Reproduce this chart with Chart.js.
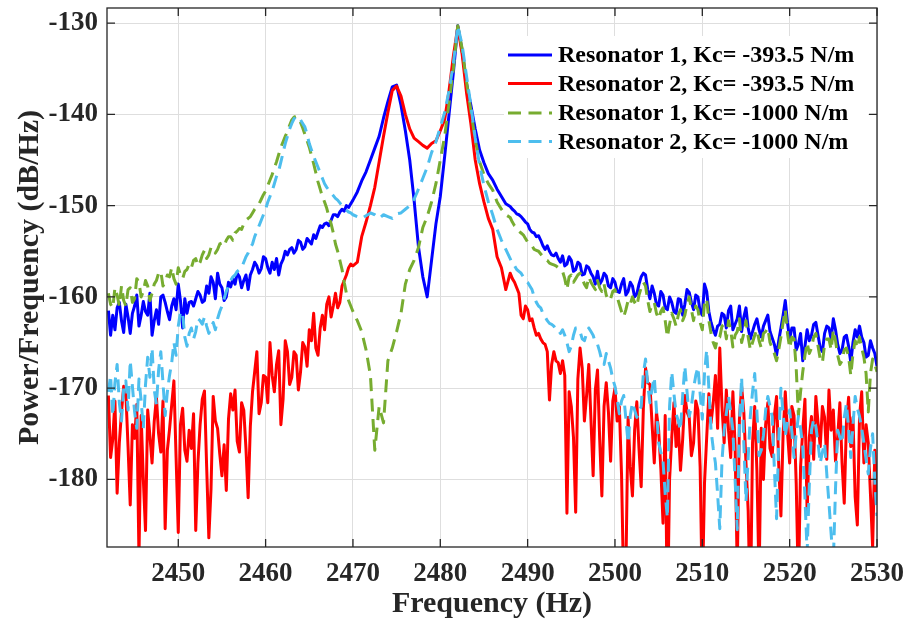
<!DOCTYPE html>
<html><head><meta charset="utf-8">
<script src="https://cdn.jsdelivr.net/npm/chart.js@4.4.1/dist/chart.umd.min.js"></script>
<style>html,body{margin:0;padding:0;background:#fff}#wrap{width:907px;height:629px}</style>
</head><body><div id="wrap"><canvas id="c" width="907" height="629"></canvas></div>
<script>
// Frequency axis (Hz): 0.25 Hz in noisy bands, 0.5 Hz around the resonances
const freq = [
2442,2442.25,2442.5,2442.75, 2443,2443.25,2443.5,2443.75, 2444,2444.25,2444.5,2444.75, 2445,2445.25,2445.5,2445.75,
2446,2446.25,2446.5,2446.75, 2447,2447.25,2447.5,2447.75, 2448,2448.25,2448.5,2448.75, 2449,2449.25,2449.5,2449.75,
2450,2450.25,2450.5,2450.75, 2451,2451.25,2451.5,2451.75, 2452,2452.25,2452.5,2452.75, 2453,2453.25,2453.5,2453.75,
2454,2454.25,2454.5,2454.75, 2455,2455.25,2455.5,2455.75, 2456,2456.25,2456.5,2456.75, 2457,2457.25,2457.5,2457.75,
2458,2458.25,2458.5,2458.75, 2459,2459.25,2459.5,2459.75, 2460,2460.25,2460.5,2460.75, 2461,2461.25,2461.5,2461.75,
2462,2462.25,2462.5,2462.75, 2463,2463.25,2463.5,2463.75, 2464,2464.25,2464.5,2464.75, 2465,2465.25,2465.5,2465.75,
2466,2466.25,2466.5,2466.75, 2467,2467.25,2467.5,2467.75, 2468,2468.25,2468.5,2468.75, 2469,2469.25,2469.5,2469.75,
2470,2470.5, 2471,2471.5, 2472,2472.5, 2473,2473.5, 2474,2474.5, 2475,2475.5, 2476,2476.5, 2477,2477.5, 2478,2478.5,
2479,2479.5, 2480,2480.5, 2481,2481.5, 2482,2482.5, 2483,2483.5, 2484,2484.5, 2485,2485.5, 2486,2486.5, 2487,2487.5,
2488,2488.25,2488.5,2488.75, 2489,2489.25,2489.5,2489.75, 2490,2490.25,2490.5,2490.75, 2491,2491.25,2491.5,2491.75,
2492,2492.25,2492.5,2492.75, 2493,2493.25,2493.5,2493.75, 2494,2494.25,2494.5,2494.75, 2495,2495.25,2495.5,2495.75,
2496,2496.25,2496.5,2496.75, 2497,2497.25,2497.5,2497.75, 2498,2498.25,2498.5,2498.75, 2499,2499.25,2499.5,2499.75,
2500,2500.25,2500.5,2500.75, 2501,2501.25,2501.5,2501.75, 2502,2502.25,2502.5,2502.75, 2503,2503.25,2503.5,2503.75,
2504,2504.25,2504.5,2504.75, 2505,2505.25,2505.5,2505.75, 2506,2506.25,2506.5,2506.75, 2507,2507.25,2507.5,2507.75,
2508,2508.25,2508.5,2508.75, 2509,2509.25,2509.5,2509.75, 2510,2510.25,2510.5,2510.75, 2511,2511.25,2511.5,2511.75,
2512,2512.25,2512.5,2512.75, 2513,2513.25,2513.5,2513.75, 2514,2514.25,2514.5,2514.75, 2515,2515.25,2515.5,2515.75,
2516,2516.25,2516.5,2516.75, 2517,2517.25,2517.5,2517.75, 2518,2518.25,2518.5,2518.75, 2519,2519.25,2519.5,2519.75,
2520,2520.25,2520.5,2520.75, 2521,2521.25,2521.5,2521.75, 2522,2522.25,2522.5,2522.75, 2523,2523.25,2523.5,2523.75,
2524,2524.25,2524.5,2524.75, 2525,2525.25,2525.5,2525.75, 2526,2526.25,2526.5,2526.75, 2527,2527.25,2527.5,2527.75,
2528,2528.25,2528.5,2528.75, 2529,2529.25,2529.5,2529.75, 2530];

// Resonator 1, Kc = -393.5 N/m (dB/Hz)
const res1Kc393 = [
-161.5,-164.2,-162.0,-163.6, -161.2,-160.6,-162.6,-163.9, -160.8,-162.2,-164.0,-161.8, -161.0,-159.8,-163.2,-162.0,
-160.5,-161.6,-162.0,-159.6, -164.2,-162.6,-161.4,-163.0, -160.0,-159.8,-160.6,-161.6, -162.5,-161.0,-160.2,-161.4,
-158.6,-160.4,-163.4,-160.2, -161.8,-160.6,-160.5,-161.0, -160.2,-159.4,-159.8,-160.6, -160.4,-158.8,-159.6,-157.8,
-158.4,-160.2,-157.4,-158.6, -159.0,-160.4,-160.0,-158.4, -158.9,-158.0,-158.6,-157.4, -157.8,-159.0,-158.2,-157.6,
-159.2,-157.6,-157.0,-156.2, -156.6,-157.4,-156.9,-155.6, -155.8,-156.8,-157.4,-156.2, -157.0,-155.8,-157.6,-156.4,
-155.9,-155.0,-155.4,-154.8, -154.6,-155.2,-154.8,-153.8, -154.0,-154.8,-154.5,-153.6, -153.9,-154.2,-153.2,-153.6,
-152.9,-152.2,-152.4,-152.0, -151.9,-152.2,-151.6,-151.0, -151.0,-151.2,-150.7,-150.4, -150.6,-150.0,-150.2,-149.8,
-149.4,-148.5, -147.3,-146.3, -145.0,-143.7, -142.4,-140.4, -138.6,-137.0, -136.8,-139.0, -141.8,-145.0, -149.4,-154.5, -157.8,-160.0,
-156.0,-152.0, -149.0,-144.6, -140.0,-135.4, -130.3,-133.0, -136.6,-139.0, -141.6,-143.9, -145.3,-146.5, -147.2,-148.2, -149.0,-149.8,
-150.1,-150.4,-150.6,-150.9, -151.0,-151.2,-151.5,-151.8, -152.0,-152.6,-152.9,-153.0, -153.4,-153.3,-153.8,-154.4,
-154.8,-154.4,-155.0,-155.4, -155.5,-155.2,-155.8,-156.2, -155.5,-156.6,-156.4,-155.6, -156.0,-157.2,-157.0,-156.2,
-156.4,-157.6,-157.5,-156.6, -156.8,-157.4,-157.8,-158.6, -157.2,-158.6,-158.2,-157.4, -157.7,-158.8,-159.0,-158.0,
-158.4,-159.4,-159.5,-158.6, -158.0,-159.8,-159.4,-158.4, -158.8,-160.0,-159.7,-158.6, -157.8,-157.4,-157.6,-159.2,
-160.2,-158.8,-159.6,-160.8, -161.0,-159.4,-159.8,-161.2, -161.4,-160.0,-160.6,-161.6, -161.8,-160.2,-160.3,-162.0,
-160.8,-159.2,-159.5,-160.6, -161.4,-159.8,-160.0,-161.6, -162.0,-158.6,-159.4,-161.6, -162.8,-163.6,-164.2,-163.2,
-163.0,-161.8,-162.0,-163.4, -161.5,-161.0,-163.6,-163.0, -162.4,-161.0,-163.8,-162.2, -161.2,-163.4,-164.6,-163.8,
-163.0,-162.4,-163.6,-164.4, -163.2,-162.6,-162.0,-163.8, -164.5,-165.2,-166.4,-164.8, -163.4,-162.0,-160.4,-162.8,
-164.6,-163.4,-163.4,-165.8, -165.2,-164.0,-167.0,-165.4, -163.6,-164.8,-164.2,-163.0, -162.8,-164.2,-165.6,-166.0,
-164.0,-163.2,-163.4,-164.6, -162.4,-163.6,-165.2,-166.2, -165.8,-164.4,-164.2,-165.4, -167.2,-165.0,-163.6,-164.4,
-163.2,-164.4,-165.0,-166.6, -166.4,-164.8,-165.6,-166.2, -167.6];

// Resonator 2, Kc = -393.5 N/m
const res2Kc393 = [
-170.8,-177.6,-175.6,-171.4, -181.5,-176.0,-172.6,-169.8, -170.6,-176.4,-182.8,-174.0, -175.5,-171.8,-188.5,-173.0,
-180.0,-185.6,-172.4,-175.2, -178.2,-173.6,-171.0,-175.0, -177.0,-171.4,-185.4,-176.8, -174.5,-171.8,-169.2,-177.6,
-185.8,-174.0,-172.2,-176.8, -178.0,-174.6,-176.6,-172.8, -185.6,-178.2,-174.0,-171.2, -170.3,-178.6,-186.4,-181.0,
-170.9,-173.6,-174.4,-177.2, -179.6,-176.2,-181.2,-173.4, -170.6,-172.4,-170.2,-175.8, -177.0,-171.6,-172.4,-176.6,
-182.0,-174.2,-170.4,-168.2, -166.0,-172.8,-171.6,-168.6, -168.8,-171.6,-165.0,-168.6, -170.4,-167.4,-165.9,-174.0,
-171.2,-164.8,-166.0,-169.6, -168.8,-166.0,-166.4,-170.2, -168.2,-165.0,-165.5,-167.6, -163.6,-164.8,-161.8,-165.6,
-166.4,-163.4,-162.0,-163.6, -160.8,-160.0,-162.2,-161.0, -159.6,-161.2,-160.6,-158.8, -158.2,-157.6,-156.8,-156.4,
-156.6,-156.2, -153.4,-151.8, -150.0,-148.0, -145.2,-142.4, -139.8,-137.4, -136.9,-138.0, -140.0,-141.6, -142.6,-143.0, -143.4,-143.7,
-143.2,-142.9, -141.8,-140.6, -137.4,-133.6, -130.4,-133.4, -137.6,-141.0, -145.0,-147.6, -149.6,-151.4, -152.6,-155.6, -156.8,-159.2,
-157.4,-158.0,-158.4,-159.0, -159.6,-162.0,-162.4,-161.0, -161.4,-162.6,-162.4,-163.4, -164.2,-164.0,-164.6,-165.0,
-165.2,-166.0,-171.3,-167.4, -166.0,-167.0,-167.2,-168.4, -167.0,-168.6,-183.7,-170.4, -172.0,-175.4,-183.6,-169.0,
-165.6,-167.8,-173.6,-170.8, -167.4,-173.4,-179.6,-170.2, -168.0,-175.6,-181.8,-172.0, -169.4,-172.6,-178.0,-171.4,
-170.0,-173.6,-172.0,-179.4, -192.0,-190.0,-173.2,-178.6, -181.8,-174.6,-171.5,-176.6, -180.8,-172.2,-167.8,-169.4,
-169.6,-174.0,-178.2,-172.6, -174.6,-178.8,-184.8,-173.0, -196.0,-180.0,-175.4,-171.6, -176.4,-174.0,-179.0,-175.6,
-170.8,-172.6,-173.2,-177.4, -176.0,-171.4,-172.4,-178.6, -193.0,-180.4,-175.4,-170.6, -173.8,-171.6,-168.6,-174.4,
-165.6,-172.0,-176.0,-170.2, -174.6,-177.6,-170.4,-176.2, -190.0,-173.4,-169.8,-172.6, -178.2,-183.4,-195.0,-176.0,
-172.0,-179.0,-191.0,-174.4, -180.0,-174.0,-171.6,-176.6, -177.5,-173.0,-170.9,-178.4, -184.0,-175.0,-170.4,-174.8,
-178.2,-172.0,-173.0,-180.4, -192.0,-178.6,-174.6,-171.2, -183.7,-175.4,-173.1,-177.8, -170.9,-173.8,-176.4,-172.0,
-173.2,-177.8,-170.2,-174.6, -172.4,-178.0,-175.3,-171.6, -178.2,-182.6,-173.8,-171.0, -176.4,-173.2,-181.9,-185.0,
-173.1,-170.4,-178.2,-174.0, -176.0,-181.6,-187.5,-176.8, -181.9];

// Resonator 1, Kc = -1000 N/m
const res1Kc1000 = [
-159.6,-160.8,-161.2,-159.0, -159.8,-161.0,-158.8,-160.4, -161.0,-159.2,-159.0,-160.6, -160.2,-158.0,-158.4,-160.0,
-159.4,-158.2,-158.8,-160.4, -159.6,-158.6,-158.2,-157.4, -157.2,-158.8,-158.4,-157.6, -157.8,-156.8,-158.0,-158.6,
-156.8,-157.6,-158.0,-157.2, -157.0,-156.4,-156.8,-156.0, -155.8,-156.6,-156.2,-155.4, -154.9,-155.8,-155.4,-154.6,
-154.6,-155.2,-154.8,-154.2, -154.1,-154.4,-153.8,-153.4, -153.4,-153.8,-153.0,-152.8, -152.5,-152.6,-152.0,-151.6,
-151.4,-151.2,-150.8,-150.4, -150.1,-149.8,-149.3,-148.8, -148.4,-147.8,-147.2,-146.6, -145.9,-145.2,-144.4,-143.6,
-143.0,-142.4,-141.9,-141.2, -140.6,-140.3,-140.2,-140.4, -140.9,-141.5,-142.2,-142.9, -143.6,-144.5,-145.4,-146.4,
-147.4,-148.2,-149.0,-149.6, -150.3,-151.2,-152.0,-153.0, -154.2,-155.0,-156.0,-157.0, -158.4,-159.6,-160.4,-161.0,
-161.6,-162.6, -163.8,-165.8, -168.6,-176.8, -172.0,-173.8, -167.0,-165.6, -163.8,-161.8, -158.6,-157.0, -156.0,-154.6, -152.4,-151.2,
-149.6,-147.6, -145.0,-142.4, -138.8,-135.0, -130.3,-132.8, -136.4,-139.6, -142.8,-145.2, -146.6,-147.6, -148.3,-149.6, -150.4,-151.0,
-151.3,-151.8,-152.2,-152.4, -152.8,-153.0,-153.2,-153.6, -154.0,-154.2,-154.4,-154.8, -154.9,-155.0,-155.3,-155.6,
-155.9,-156.0,-156.3,-156.4, -156.5,-156.6,-156.8,-157.0, -157.2,-158.0,-159.2,-157.8, -157.6,-158.4,-158.0,-157.6,
-157.4,-158.0,-158.6,-159.0, -157.8,-158.4,-158.8,-159.2, -158.2,-159.0,-159.4,-158.6, -159.8,-160.4,-160.2,-159.4,
-159.2,-160.0,-160.8,-161.6, -162.2,-161.4,-160.4,-160.8, -160.0,-160.6,-161.0,-159.8, -159.0,-158.4,-158.8,-160.4,
-161.6,-160.8,-160.6,-161.8, -162.4,-161.6,-161.2,-162.6, -164.4,-163.0,-161.8,-162.4, -163.2,-162.0,-161.4,-162.6,
-162.0,-160.8,-160.0,-161.4, -162.6,-161.0,-161.4,-162.8, -163.6,-160.6,-160.2,-162.6, -164.0,-165.0,-165.6,-164.4,
-164.4,-163.2,-163.0,-164.6, -162.6,-163.6,-165.5,-164.2, -163.8,-162.4,-165.0,-164.0, -162.6,-164.4,-165.8,-165.0,
-164.2,-163.6,-164.8,-165.6, -164.0,-163.8,-163.4,-165.0, -165.6,-166.2,-167.0,-165.8, -164.4,-162.8,-161.4,-164.0,
-165.6,-164.4,-164.6,-167.8, -173.0,-170.4,-168.2,-166.4, -165.0,-166.2,-165.6,-164.4, -164.0,-165.4,-166.8,-167.2,
-165.2,-164.6,-164.6,-165.8, -163.6,-164.8,-166.4,-167.4, -167.0,-165.8,-165.6,-166.6, -168.6,-166.2,-164.8,-165.6,
-164.4,-165.6,-166.6,-168.4, -172.6,-168.4,-166.8,-167.4, -168.2];

// Resonator 2, Kc = -1000 N/m
const res2Kc1000 = [
-170.4,-168.6,-173.0,-169.4, -167.4,-171.6,-173.6,-170.0, -169.2,-172.4,-167.0,-169.8, -172.6,-174.4,-169.0,-171.4,
-174.4,-169.6,-166.6,-168.8, -165.6,-170.2,-171.8,-168.0, -166.0,-169.4,-173.0,-170.4, -168.6,-167.2,-165.0,-166.4,
-163.2,-161.6,-161.8,-164.4, -165.4,-164.0,-163.4,-164.6, -163.8,-162.4,-162.6,-163.0, -162.2,-163.2,-164.0,-163.4,
-162.8,-163.6,-162.4,-161.6, -161.0,-160.2,-159.4,-158.8, -158.2,-157.8,-157.6,-157.2, -157.0,-156.8,-156.2,-155.6,
-155.2,-154.6,-154.2,-153.4, -152.8,-152.2,-151.6,-151.0, -150.4,-149.6,-149.0,-148.4, -147.6,-146.8,-146.2,-145.2,
-144.2,-143.2,-142.4,-141.6, -141.0,-140.5,-140.2,-140.3, -140.6,-141.0,-141.4,-142.2, -143.2,-143.9,-144.6,-145.2,
-145.8,-146.4,-147.0,-147.6, -148.0,-148.3,-148.6,-148.9, -149.2,-149.4,-149.7,-150.0, -150.2,-150.5,-150.7,-150.8,
-151.0,-151.2, -151.4,-151.1, -150.8,-151.0, -151.4,-151.0, -151.2,-151.4, -150.9,-150.8, -150.4,-150.0, -149.3,-148.2, -147.0,-145.8,
-144.2,-143.0, -141.4,-139.8, -137.4,-134.4, -130.3,-132.4, -135.8,-139.0, -142.6,-145.6, -147.8,-149.6, -151.0,-152.6, -153.8,-154.8,
-155.8,-156.4,-156.6,-157.0, -157.2,-157.4,-157.8,-158.2, -158.4,-158.8,-159.2,-160.0, -160.6,-161.0,-161.2,-161.8,
-162.2,-162.6,-162.9,-163.0, -163.2,-163.6,-163.6,-164.0, -163.6,-164.2,-165.0,-166.0, -165.4,-164.2,-163.4,-163.6,
-163.8,-164.6,-164.8,-164.0, -163.4,-163.8,-164.2,-165.0, -165.2,-166.0,-167.0,-167.4, -166.2,-167.0,-167.8,-169.0,
-169.8,-171.2,-172.8,-171.4, -170.8,-173.4,-176.0,-173.0, -171.6,-172.4,-173.2,-172.6, -172.0,-168.4,-166.8,-169.6,
-171.6,-170.0,-168.8,-172.4, -176.0,-177.0,-178.0,-181.6, -184.2,-172.0,-168.2,-170.6, -172.8,-173.6,-174.6,-170.8,
-167.6,-170.4,-173.1,-172.0, -170.0,-168.6,-167.7,-170.6, -173.4,-168.4,-165.8,-170.0, -174.6,-176.6,-178.2,-181.6,
-185.4,-178.0,-174.6,-172.8, -170.9,-172.6,-174.6,-180.0, -185.5,-174.0,-168.8,-176.0, -182.4,-177.6,-173.0,-170.4,
-168.4,-172.6,-177.4,-176.8, -175.2,-172.4,-170.9,-172.0, -173.1,-178.8,-184.3,-175.6, -170.0,-172.8,-175.3,-173.6,
-172.4,-174.8,-177.6,-175.0, -173.1,-174.4,-176.4,-182.0, -188.0,-180.6,-174.6,-173.4, -174.2,-176.0,-178.2,-177.0,
-176.0,-179.4,-182.6,-186.0, -189.0,-181.0,-174.6,-175.4, -176.0,-173.2,-171.7,-174.4, -177.6,-174.0,-170.9,-172.2,
-173.1,-174.4,-176.0,-177.8, -179.4,-176.6,-175.0,-180.2, -184.0];

const seriesLabels = ['Resonator 1, Kc= -393.5 N/m','Resonator 2, Kc= -393.5 N/m','Resonator 1, Kc= -1000 N/m','Resonator 2, Kc= -1000 N/m'];
const xTicks = [2450,2460,2470,2480,2490,2500,2510,2520,2530];
const yTicks = [-180,-170,-160,-150,-140,-130];

const FONT = '"Liberation Serif","Times New Roman",serif';
const toXY = arr => freq.map((f,i)=>({x:f,y:arr[i]}));
const DASH = [13,7.5];

const series = [
  {data:res1Kc393, color:'#0000FF', dash:[], order:4},
  {data:res2Kc393, color:'#FF0000', dash:[], order:3},
  {data:res1Kc1000, color:'#77AC30', dash:DASH, order:2},
  {data:res2Kc1000, color:'#4DBEEE', dash:DASH, order:1}
];

const framePlugin = {
  id:'frame',
  afterDatasetsDraw(chart){
    const {ctx, chartArea:a, scales:{x,y}} = chart;
    ctx.save();
    ctx.strokeStyle='#262626'; ctx.lineWidth=1.3;
    ctx.strokeRect(a.left, a.top, a.right-a.left, a.bottom-a.top);
    ctx.beginPath();
    xTicks.forEach(v=>{const p=x.getPixelForValue(v);
      ctx.moveTo(p,a.bottom); ctx.lineTo(p,a.bottom-8);
      ctx.moveTo(p,a.top); ctx.lineTo(p,a.top+8);});
    yTicks.forEach(v=>{const p=y.getPixelForValue(v);
      ctx.moveTo(a.left,p); ctx.lineTo(a.left+8,p);
      ctx.moveTo(a.right,p); ctx.lineTo(a.right-8,p);});
    ctx.stroke();
    // legend
    ctx.fillStyle='#fff';
    ctx.fillRect(504,36,364,122);
    const rowY=[55,83.5,113,141.5];
    ctx.font='bold 24px '+FONT;
    ctx.textBaseline='middle';
    series.forEach((s,i)=>{
      ctx.beginPath();
      ctx.setLineDash(s.dash);
      ctx.lineDashOffset=0;
      ctx.strokeStyle=s.color; ctx.lineWidth=3;
      ctx.moveTo(508,rowY[i]); ctx.lineTo(552,rowY[i]);
      ctx.stroke();
      ctx.setLineDash([]);
      ctx.fillStyle='#000';
      ctx.fillText(seriesLabels[i],558,rowY[i]+1);
    });
    ctx.restore();
  }
};

new Chart(document.getElementById('c'),{
  type:'line',
  data:{datasets: series.map((s,i)=>({
    label:seriesLabels[i], data:toXY(s.data), borderColor:s.color, backgroundColor:s.color,
    borderWidth:3, borderDash:s.dash, pointRadius:0, tension:0, fill:false,
    borderJoinStyle:'round', order:s.order, clip:0
  }))},
  options:{
    responsive:false, animation:false, devicePixelRatio:1,
    layout:{padding:{top:8,right:30,left:0,bottom:0}},
    plugins:{legend:{display:false}, tooltip:{enabled:false}},
    scales:{
      x:{type:'linear', min:2441.84, max:2530,
        afterBuildTicks:s=>{s.ticks=xTicks.map(v=>({value:v}));},
        afterFit:s=>{s.height=82; s.paddingLeft=0; s.paddingRight=0;},
        grid:{color:'#dedede', lineWidth:1, drawTicks:false},
        border:{display:false},
        ticks:{autoSkip:false, maxRotation:0, padding:11, color:'#262626',
          font:{family:FONT,size:27,weight:'bold'}, callback:v=>String(v)},
        title:{display:true, text:'Frequency (Hz)', color:'#262626',
          font:{family:FONT,size:30,weight:'bold'}, padding:{top:0,bottom:7}}
      },
      y:{type:'linear', min:-187.4, max:-128.35,
        afterBuildTicks:s=>{s.ticks=yTicks.map(v=>({value:v}));},
        afterFit:s=>{s.width=107; s.paddingTop=0; s.paddingBottom=0;},
        grid:{color:'#dedede', lineWidth:1, drawTicks:false},
        border:{display:false},
        ticks:{autoSkip:false, padding:9, color:'#262626',
          font:{family:FONT,size:27,weight:'bold'}, callback:v=>String(v)},
        title:{display:true, text:'Power/Frequency (dB/Hz)', color:'#262626',
          font:{family:FONT,size:30,weight:'bold'}, padding:{top:12,bottom:0}}
      }
    }
  },
  plugins:[framePlugin]
});
</script>
</body></html>
